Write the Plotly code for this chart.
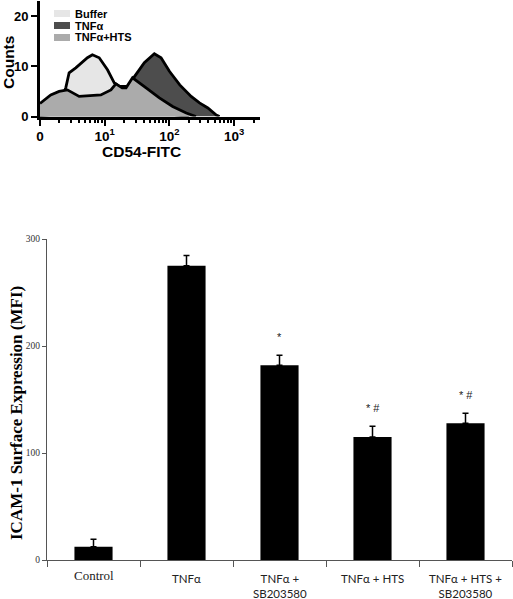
import plotly.graph_objects as go

W, H = 513, 599

# ---------------- Histogram data (log10 CD54-FITC position, counts) ----------------
buffer_log = [0.0, 0.2, 0.35, 0.40, 0.45, 0.553, 0.733, 0.81, 0.915, 1.043, 1.147, 1.225, 1.329, 1.5, 1.7, 1.9, 2.1, 2.3]
buffer_cnt = [0.5, 2.5, 4.0, 5.8, 8.7, 9.7, 11.7, 12.3, 11.7, 9.3, 6.7, 6.0, 6.0, 3.5, 2.0, 1.0, 0.3, 0.0]

tnf_log = [0.0, 0.5, 1.0, 1.3, 1.43, 1.504, 1.612, 1.767, 1.871, 2.0, 2.16, 2.336, 2.465, 2.594, 2.724, 2.775]
tnf_cnt = [0.2, 0.8, 2.0, 4.0, 7.4, 8.7, 10.7, 12.5, 11.7, 9.0, 6.3, 4.0, 2.7, 1.7, 0.3, 0.0]

hts_log = [0.0, 0.166, 0.295, 0.423, 0.605, 0.94, 1.096, 1.173, 1.27, 1.33, 1.43, 1.51, 1.64, 1.845, 2.05, 2.26, 2.41]
hts_cnt = [2.6, 4.3, 5.0, 5.3, 4.0, 4.3, 5.3, 6.5, 5.7, 5.7, 7.7, 7.0, 5.7, 3.7, 2.0, 0.7, 0.0]

hist_names = ["Buffer", "TNFα", "TNFα+HTS"]
hist_colors = ["#e6e6e6", "#4d4d4d", "#ababab"]

hist_xticks = [1, 10, 100, 1000]
hist_xticktext = ["0", "10<sup>1</sup>", "10<sup>2</sup>", "10<sup>3</sup>"]
hist_yticks = [0, 10, 20]

# ---------------- Bar chart data ----------------
categories = ["Control", "TNFα", "TNFα +<br>SB203580", "TNFα + HTS", "TNFα + HTS +<br>SB203580"]
mfi = [12.5, 275, 182, 115, 127.7]
mfi_err = [7, 9.5, 9.3, 10, 9.5]
sig = ["", "", "*", "* #", "* #"]
bar_yticks = [0, 100, 200, 300]


def px(x):
    return x / W


def py(y):
    return 1 - y / H


fig = go.Figure()

for xs, ys, name, col in [(buffer_log, buffer_cnt, hist_names[0], hist_colors[0]),
                          (tnf_log, tnf_cnt, hist_names[1], hist_colors[1]),
                          (hts_log, hts_cnt, hist_names[2], hist_colors[2])]:
    fig.add_trace(go.Scatter(
        x=[10 ** v for v in xs], y=ys, name=name, mode="lines",
        line=dict(color="black", width=2.8), fill="tozeroy", fillcolor=col,
        xaxis="x", yaxis="y", showlegend=False, hoverinfo="skip"))

fig.add_trace(go.Bar(
    x=categories, y=mfi, marker=dict(color="black", line=dict(width=0)),
    width=0.41,
    error_y=dict(type="data", array=mfi_err, arrayminus=[0] * len(mfi), symmetric=False,
                 color="black", thickness=1.5, width=3),
    xaxis="x2", yaxis="y2", showlegend=False))

fig.update_layout(
    width=W, height=H, margin=dict(l=0, r=0, t=0, b=0, autoexpand=False),
    paper_bgcolor="white", plot_bgcolor="white",
    xaxis=dict(type="log", domain=[px(40), px(260)], range=[0, 3.4],
               tickmode="array", tickvals=hist_xticks, ticktext=hist_xticktext,
               ticks="outside", ticklen=6, tickwidth=2, tickcolor="black",
               showline=True, linewidth=3, linecolor="black", showgrid=False, zeroline=False,
               tickfont=dict(family="Liberation Sans, Arial", size=13.5, color="black", weight="bold"),
               ticklabelstandoff=-1,
               minor=dict(ticks="outside", ticklen=3, tickwidth=1.5, tickcolor="black",
                          tickmode="array",
                          tickvals=[m * d for d in (1, 10, 100) for m in range(2, 10)] + [2000]),
               anchor="y"),
    yaxis=dict(domain=[py(116.5), py(1)], range=[0, 23],
               tickmode="array", tickvals=hist_yticks,
               ticks="outside", ticklen=6, tickwidth=2, tickcolor="black",
               showline=True, linewidth=3, linecolor="black", showgrid=False, zeroline=False,
               tickfont=dict(family="Liberation Sans, Arial", size=13, color="black", weight="bold"),
               anchor="x"),
    xaxis2=dict(domain=[px(47), px(512)], range=[-0.5, 4.5], type="category",
                showticklabels=False, ticks="outside", tickson="boundaries", ticklen=6,
                tickcolor="#555", tickwidth=1,
                showline=True, linewidth=1, linecolor="#555", showgrid=False, zeroline=False,
                anchor="y2"),
    yaxis2=dict(domain=[py(560), py(239)], range=[0, 300],
                tickmode="array", tickvals=bar_yticks,
                ticks="outside", ticklen=4, tickcolor="#555", tickwidth=1,
                showline=True, linewidth=1, linecolor="#555", showgrid=False, zeroline=False,
                tickfont=dict(family="Liberation Serif, Times New Roman", size=9.5, color="#333"),
                anchor="x2"),
    bargap=0.59,
)

annotations = []
shapes = []

annotations.append(dict(text="Counts", xref="paper", yref="paper", x=px(8), y=py(63),
                        textangle=-90, showarrow=False, xanchor="center", yanchor="middle",
                        font=dict(family="Liberation Sans, Arial", size=15.5, color="black", weight="bold")))
annotations.append(dict(text="CD54-FITC", xref="paper", yref="paper", x=px(141), y=py(151),
                        showarrow=False, xanchor="center", yanchor="middle",
                        font=dict(family="Liberation Sans, Arial", size=15.5, color="black", weight="bold")))

leg_rows = [13.5, 25.5, 37.5]
for name, col, yc in zip(hist_names, hist_colors, leg_rows):
    shapes.append(dict(type="rect", xref="paper", yref="paper",
                       x0=px(54), x1=px(70), y0=py(yc - 3.5), y1=py(yc + 3.5),
                       fillcolor=col, line=dict(width=0)))
    annotations.append(dict(text=name, xref="paper", yref="paper", x=px(73), y=py(yc),
                            showarrow=False, xanchor="left", yanchor="middle",
                            font=dict(family="Liberation Sans, Arial", size=11, color="black", weight="bold")))

annotations.append(dict(text="ICAM-1 Surface Expression (MFI)", xref="paper", yref="paper",
                        x=px(16), y=py(413), textangle=-90, showarrow=False,
                        xanchor="center", yanchor="middle",
                        font=dict(family="Liberation Serif, Times New Roman", size=17, color="black", weight="bold")))

for i, cat in enumerate(categories):
    if i == 0:
        annotations.append(dict(text=cat, xref="x2", yref="paper", x=cat, y=py(566),
                                showarrow=False, xanchor="center", yanchor="top",
                                font=dict(family="Liberation Serif, Times New Roman", size=13, color="#222")))
    else:
        annotations.append(dict(text=cat, xref="x2", yref="paper", x=cat, y=py(570),
                                showarrow=False, xanchor="center", yanchor="top",
                                font=dict(family="Lato, Open Sans, sans-serif", size=11.5, color="#222")))

for cat, v, e, s in zip(categories, mfi, mfi_err, sig):
    if s:
        annotations.append(dict(text=s, xref="x2", yref="y2", x=cat, y=v + e,
                                yshift=18, showarrow=False, xanchor="center", yanchor="middle",
                                font=dict(family="Liberation Sans, Arial", size=11, color="#222")))

fig.update_layout(annotations=annotations, shapes=shapes)

fig.write_html("out.html", config={"displayModeBar": False},
               post_script="document.body.style.margin='0';document.body.style.overflow='hidden';")
